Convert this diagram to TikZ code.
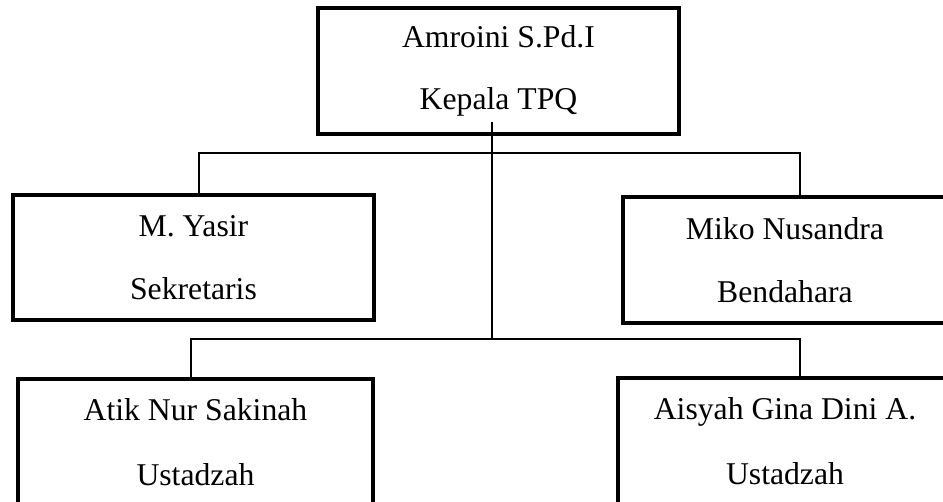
\documentclass[tikz,border=0pt]{standalone}
\usepackage{fontspec}
\setmainfont{Liberation Serif}
\begin{document}
\begin{tikzpicture}[x=1pt,y=-1pt,
  box/.style={draw, line width=3.5pt, align=center, inner sep=0pt,
    font=\fontsize{31.7}{38}\selectfont},
  conn/.style={line width=1.6pt}]
\clip (0,0) rectangle (943,502);
\fill[white] (0,0) rectangle (943,502);
\node[box, minimum width=361pt, minimum height=126pt] (top) at (498.5,71) {Amroini S.Pd.I\\[24pt]Kepala TPQ};
\node[box, minimum width=361pt, minimum height=125pt] (sek) at (193.5,257.5) {M. Yasir\\[25pt]Sekretaris};
\node[box, minimum width=324pt, minimum height=126pt] (bend) at (785,260) {Miko Nusandra\\[25pt]Bendahara};
\node[box, minimum width=355pt, minimum height=127pt] (atik) at (195.5,442.5) {Atik Nur Sakinah\\[27pt]Ustadzah};
\node[box, minimum width=334pt, minimum height=127pt] (aisyah) at (785,441.5) {Aisyah Gina Dini A.\\[27pt]Ustadzah};
\coordinate (t1) at (492,122);
\coordinate (t2) at (492,340);
\coordinate (uL) at (199,153);
\coordinate (uR) at (800,153);
\coordinate (lL) at (191,339);
\coordinate (lR) at (800,339);
\draw[conn] (t1) -- (t2);
\draw[conn] (sek.north -| uL) -- (uL) -- (uR) -- (bend.north -| uR);
\draw[conn] (atik.north -| lL) -- (lL) -- (lR) -- (aisyah.north -| lR);
\end{tikzpicture}
\end{document}
